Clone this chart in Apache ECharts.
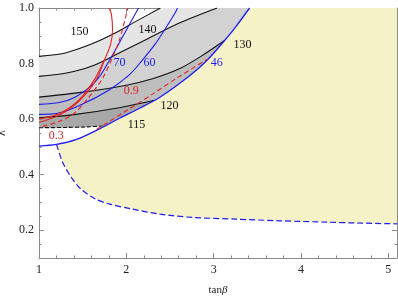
<!DOCTYPE html>
<html><head><meta charset="utf-8">
<script src="https://cdn.jsdelivr.net/npm/echarts@6/dist/echarts.min.js"></script>
<style>html,body{margin:0;padding:0;background:#fff}#c{width:398px;height:300px}</style>
</head><body><div id="c"></div>
<script>
// axis ranges and ticks
const tanBetaRange = [1, 5.1];
const lambdaRange = [0.1, 1.0];
const xTicks = [1, 2, 3, 4, 5];
const yTicks = [0.2, 0.4, 0.6, 0.8, 1.0];

// Higgs-mass contours (black)
const mh150 = [[1.0,0.826],[1.3,0.838],[1.6,0.870],[1.85,0.906],[2.1,0.950],[2.39,1.0]];
const mh140 = [[1.0,0.754],[1.3,0.765],[1.6,0.790],[1.9,0.835],[2.2,0.882],[2.6,0.945],[3.04,1.0]];
const mh130 = [[1.0,0.679],[1.5,0.697],[2.0,0.722],[2.3,0.745],[2.6,0.780],[2.85,0.825],[3.125,0.883]];
const mh120 = [[1.0,0.605],[1.4,0.616],[1.9,0.640],[2.32,0.668]];
const mh115 = [[1.0,0.569],[1.3,0.570],[1.55,0.572],[1.76,0.576]];

// blue contours
const blue46 = [[1.0,0.503],[1.2,0.509],[1.43,0.527],[1.693,0.565],[1.922,0.603],[2.151,0.639],[2.38,0.678],[2.609,0.728],[2.838,0.786],[2.976,0.829],[3.125,0.883],[3.262,0.936],[3.411,1.0]];
const blueDashed = [[1.2,0.509],[1.22,0.49],[1.27,0.445],[1.37,0.39],[1.48,0.348],[1.65,0.312],[1.81,0.294],[2.07,0.276],[2.38,0.258],[2.76,0.246],[3.25,0.240],[3.75,0.234],[4.3,0.229],[4.63,0.226],[5.1,0.223]];
const blue70 = [[1.0,0.653],[1.235,0.660],[1.407,0.678],[1.578,0.714],[1.693,0.753],[1.785,0.800],[1.876,0.850],[2.002,0.922],[2.14,1.0]];
const blue60 = [[1.0,0.617],[1.2,0.620],[1.464,0.649],[1.808,0.706],[2.037,0.760],[2.186,0.813],[2.323,0.867],[2.437,0.921],[2.563,0.985],[2.586,1.0]];

// red contours
const red03a = [[1.0,0.600],[1.235,0.620],[1.464,0.671],[1.636,0.743],[1.75,0.814],[1.819,0.868],[1.842,0.922],[1.83,0.976],[1.807,1.0]];
const red03b = [[1.0,0.588],[1.212,0.611],[1.40,0.648],[1.55,0.695],[1.67,0.750],[1.75,0.814]];
const red03dash = [[1.04,0.574],[1.235,0.592],[1.407,0.622],[1.578,0.682],[1.727,0.746],[1.83,0.814],[1.922,0.886],[2.014,0.994],[2.02,1.0]];
const red09dash = [[1.66,0.563],[2.0,0.630],[2.3,0.690],[2.6,0.752],[2.93,0.816]];

// contour labels
const labelTexts = ['150','140','130','120','115','70','60','46','0.9','0.3'];
const labelPos = [[1.464,0.915],[2.243,0.922],[3.331,0.868],[2.495,0.649],[2.117,0.581],[1.922,0.803],[2.266,0.803],[3.037,0.803],[2.056,0.700],[1.197,0.539]];
const labelKind = ['k','k','k','k','k','b','b','b','r','r'];

const BLACK = '#111', BLUE = '#1c1cf0', RED = '#e02424';
const kindColor = {k: BLACK, b: BLUE, r: RED};
const FONT = '"Liberation Serif", "DejaVu Serif", serif';

function band(line) {
  const endL = line[line.length - 1][1];
  const eEnd = mh115[mh115.length - 1][1];
  const edge = blue46.filter(p => p[1] <= endL + 1e-9 && p[1] > eEnd).slice().reverse();
  return line.concat(edge, mh115.slice().reverse());
}
function yellowPoly() {
  const start = blueDashed[0][0];
  const top = blue46.filter(p => p[0] >= start).slice().reverse();
  return blueDashed.concat([[tanBetaRange[1], lambdaRange[1]]], top);
}

const fills = [
  {poly: band(mh150), color: '#e5e5e5'},
  {poly: band(mh140), color: '#d2d2d2'},
  {poly: band(mh130), color: '#bebebe'},
  {poly: band(mh120), color: '#a8a8a8'},
  {poly: yellowPoly(), color: '#f5f2c7'}
];

function lineSeries(data, color, dashed, w) {
  return {
    type: 'line', data: data, showSymbol: false, smooth: 0.3, z: 5,
    lineStyle: {color: color, width: w || 1.1, type: dashed || 'solid'},
    silent: true
  };
}

const axisCol = '#8a8a8a';
const chart = echarts.init(document.getElementById('c'));
chart.setOption({
  animation: false,
  grid: {left: 39, top: 8, right: 1, bottom: 42, outerBoundsMode: 'none', containLabel: false},
  xAxis: [
    {type: 'value', min: tanBetaRange[0], max: tanBetaRange[1], interval: 1, position: 'bottom',
     axisLine: {lineStyle: {color: axisCol}}, splitLine: {show: false},
     axisTick: {inside: true, length: 5, lineStyle: {color: axisCol}},
     minorTick: {show: true, splitNumber: 5, length: 2.5, lineStyle: {color: axisCol}},
     axisLabel: {color: '#222', fontFamily: FONT, fontSize: 12, margin: 6,
       customValues: xTicks, formatter: v => String(v)},
     name: '{a|tan}{b|β}', nameLocation: 'middle', nameGap: 27,
     nameTextStyle: {rich: {a: {fontFamily: FONT, fontSize: 11, color: '#222'}, b: {fontFamily: FONT, fontSize: 11, fontStyle: 'italic', color: '#222'}}}},
    {type: 'value', min: tanBetaRange[0], max: tanBetaRange[1], interval: 1, position: 'top',
     axisLine: {lineStyle: {color: axisCol}}, splitLine: {show: false},
     axisTick: {inside: true, length: 5, lineStyle: {color: axisCol}},
     minorTick: {show: true, splitNumber: 5, length: 2.5, lineStyle: {color: axisCol}},
     axisLabel: {show: false}}
  ],
  yAxis: [
    {type: 'value', min: lambdaRange[0], max: lambdaRange[1], position: 'left',
     axisLine: {show: true, lineStyle: {color: axisCol}}, splitLine: {show: false},
     axisTick: {inside: true, length: 5, customValues: yTicks, lineStyle: {color: axisCol}},
     axisLabel: {color: '#222', fontFamily: FONT, fontSize: 12, margin: 5, customValues: yTicks,
       formatter: v => v.toFixed(1)},
     name: 'λ', nameLocation: 'middle', nameGap: 31, nameRotate: 90,
     nameTextStyle: {fontFamily: FONT, fontSize: 12, color: '#222'}},
    {type: 'value', min: lambdaRange[0], max: lambdaRange[1], interval: 0.05, position: 'left',
     axisLine: {show: false}, splitLine: {show: false},
     axisTick: {inside: true, length: 2.5, lineStyle: {color: axisCol}}, axisLabel: {show: false}},
    {type: 'value', min: lambdaRange[0], max: lambdaRange[1], position: 'right',
     axisLine: {show: true, lineStyle: {color: axisCol}}, splitLine: {show: false},
     axisTick: {inside: true, length: 5, customValues: yTicks, lineStyle: {color: axisCol}},
     axisLabel: {show: false}},
    {type: 'value', min: lambdaRange[0], max: lambdaRange[1], interval: 0.05, position: 'right',
     axisLine: {show: false}, splitLine: {show: false},
     axisTick: {inside: true, length: 2.5, lineStyle: {color: axisCol}}, axisLabel: {show: false}}
  ],
  series: [
    {type: 'custom', z: 1, silent: true, clip: true, data: [[tanBetaRange[0], lambdaRange[0]]],
     renderItem: (params, api) => ({
       type: 'group',
       children: fills.map(f => ({type: 'polygon', shape: {points: f.poly.map(p => api.coord(p))},
         style: {fill: f.color, stroke: null}}))
     })},
    lineSeries(mh150, BLACK),
    lineSeries(mh140, BLACK),
    lineSeries(mh130, BLACK),
    lineSeries(mh120, BLACK),
    lineSeries(mh115, BLACK, [4, 2]),
    lineSeries(blue46, BLUE, 'solid', 1.3),
    lineSeries(blueDashed, BLUE, [6, 3], 1.2),
    lineSeries(blue70, BLUE),
    lineSeries(blue60, BLUE),
    lineSeries(red03a, RED),
    lineSeries(red03b, RED),
    lineSeries(red03dash, RED, [5, 3]),
    lineSeries(red09dash, RED, [5, 3]),
    {type: 'custom', z: 10, silent: true, clip: false, data: labelPos,
     renderItem: (params, api) => {
       const i = params.dataIndex;
       const c = api.coord(labelPos[i]);
       return {type: 'text', x: c[0], y: c[1],
         style: {text: labelTexts[i], fill: kindColor[labelKind[i]], font: '12px ' + FONT,
           align: 'center', verticalAlign: 'middle'}};
     }}
  ]
});
</script></body></html>
